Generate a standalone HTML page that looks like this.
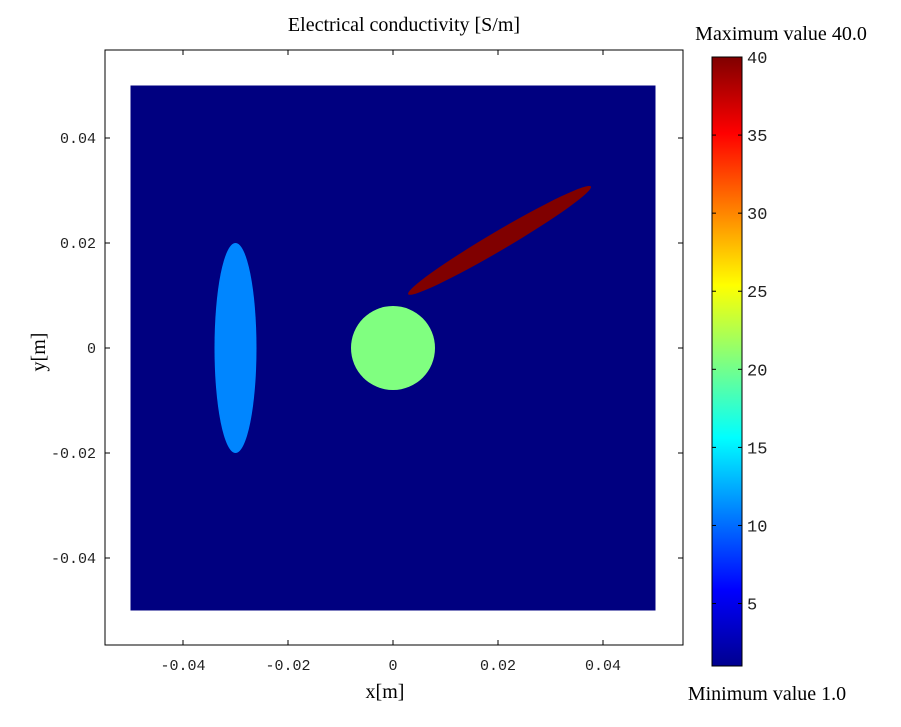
<!DOCTYPE html>
<html><head><meta charset="utf-8"><style>
body{margin:0;background:#fff;}
svg text{font-family:"Liberation Serif",serif;}
.tk{font-family:"Liberation Mono",monospace;font-size:15px;fill:#222;}
</style></head><body>
<svg id="chart" width="901" height="722" xmlns="http://www.w3.org/2000/svg">
<defs><linearGradient id="jet" x1="0" y1="1" x2="0" y2="0">
<stop offset="0" stop-color="#00008f"/><stop offset="0.125" stop-color="#0000ff"/>
<stop offset="0.375" stop-color="#00ffff"/><stop offset="0.625" stop-color="#ffff00"/>
<stop offset="0.875" stop-color="#ff0000"/><stop offset="1" stop-color="#800000"/>
</linearGradient></defs>
<text x="404" y="31" text-anchor="middle" font-size="20">Electrical conductivity [S/m]</text>
<rect x="105" y="50" width="578" height="595" fill="#fff" stroke="#000" stroke-width="1"/>
<g id="plot"></g>
<text x="385" y="698" text-anchor="middle" font-size="20">x[m]</text>
<text x="45" y="352" text-anchor="middle" font-size="20" transform="rotate(-90 45 352)">y[m]</text>
<rect x="712" y="57" width="30" height="609" fill="url(#jet)" stroke="#000"/>
<g id="cb"></g>
<text x="781" y="40" text-anchor="middle" font-size="20">Maximum value 40.0</text>
<text x="767" y="700" text-anchor="middle" font-size="20">Minimum value 1.0</text>
</svg>
<script>
const xTicks=[-0.04,-0.02,0,0.02,0.04];
const yTicks=[0.04,0.02,0,-0.02,-0.04];
const xTickLabels=["-0.04","-0.02","0","0.02","0.04"];
const yTickLabels=["0.04","0.02","0","-0.02","-0.04"];
const domain=[-0.05,0.05];
const cbTicks=[5,10,15,20,25,30,35,40];
const cbRange=[1,40];
const shapeNames=["blue-ellipse","green-circle","red-ellipse"];
const shapeCx=[-0.03,0,0.0203];
const shapeCy=[0,0,0.0205];
const shapeRx=[0.004,0.008,0.0202];
const shapeRy=[0.02,0.008,0.0018];
const shapeAngle=[0,0,-30.5];
const shapeValue=[11,20.5,40];
const NS="http://www.w3.org/2000/svg";
const X=v=>393+v*5250, Y=v=>348-v*5250, S=v=>v*5250;
const CB=v=>666-(v-cbRange[0])/(cbRange[1]-cbRange[0])*609;
function jet(v){const t=(v-cbRange[0])/(cbRange[1]-cbRange[0]);
 const c=x=>Math.round(255*Math.max(0,Math.min(1,x)));
 return `rgb(${c(1.5-Math.abs(4*t-3))},${c(1.5-Math.abs(4*t-2))},${c(1.5-Math.abs(4*t-1))})`;}
function mk(tag,attrs,parent){const e=document.createElementNS(NS,tag);for(const k in attrs)e.setAttribute(k,attrs[k]);parent.appendChild(e);return e;}
const plot=document.getElementById('plot');
const bg=mk('rect',{x:X(domain[0]),y:Y(domain[1]),width:S(domain[1]-domain[0]),height:S(domain[1]-domain[0]),fill:jet(1)},plot);


shapeNames.forEach((n,i)=>{
 const e=mk('ellipse',{cx:X(shapeCx[i]),cy:Y(shapeCy[i]),rx:S(shapeRx[i]),ry:S(shapeRy[i]),fill:jet(shapeValue[i]),transform:`rotate(${shapeAngle[i]} ${X(shapeCx[i])} ${Y(shapeCy[i])})`},plot);
 
 
});
xTicks.forEach((v,i)=>{
 mk('line',{x1:X(v),x2:X(v),y1:645,y2:640,stroke:'#000'},plot);
 mk('line',{x1:X(v),x2:X(v),y1:50,y2:55,stroke:'#000'},plot);
 const t=mk('text',{x:X(v),y:670,'text-anchor':'middle',class:'tk'},plot);t.textContent=xTickLabels[i];
 
 
});
yTicks.forEach((v,i)=>{
 mk('line',{x1:105,x2:110,y1:Y(v),y2:Y(v),stroke:'#000'},plot);
 mk('line',{x1:683,x2:678,y1:Y(v),y2:Y(v),stroke:'#000'},plot);
 const t=mk('text',{x:96,y:Y(v)+5,'text-anchor':'end',class:'tk'},plot);t.textContent=yTickLabels[i];
 
 
});
const cb=document.getElementById('cb');
cbTicks.forEach(v=>{
 mk('line',{x1:712,x2:716,y1:CB(v),y2:CB(v),stroke:'#000'},cb);
 mk('line',{x1:742,x2:738,y1:CB(v),y2:CB(v),stroke:'#000'},cb);
 const t=mk('text',{x:747,y:CB(v)+6,class:'tk',style:'font-size:17px'},cb);t.textContent=v;
 
 
});
</script>
</body></html>
